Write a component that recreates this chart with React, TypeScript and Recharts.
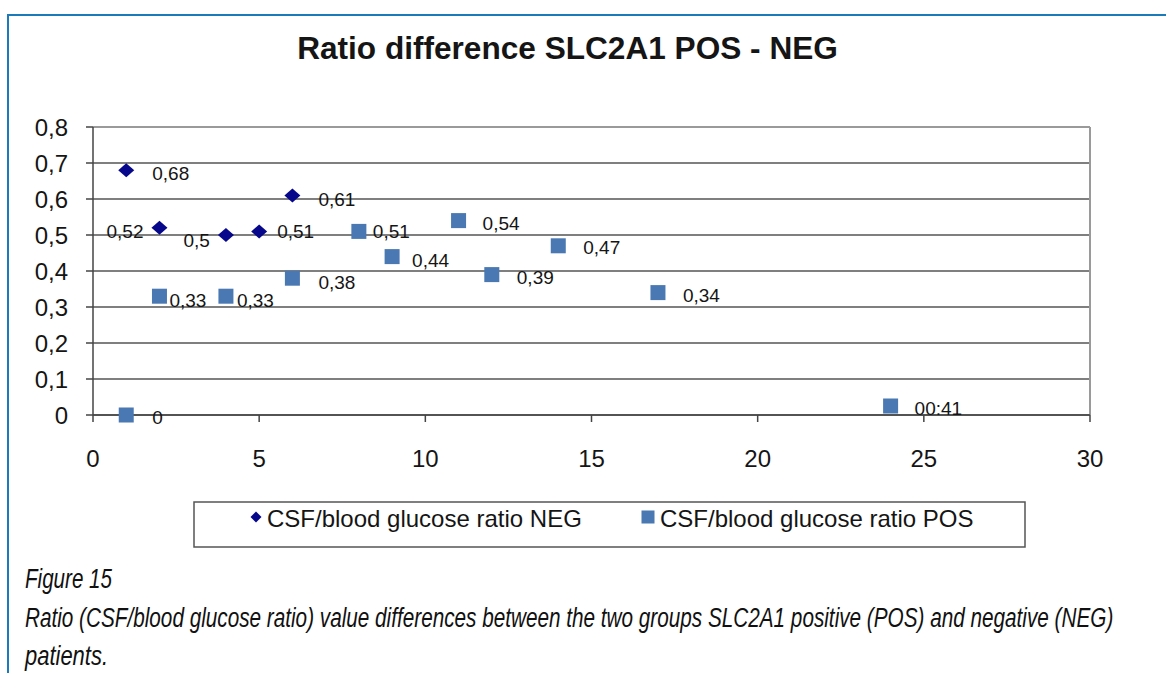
import React, { useLayoutEffect, useRef, useState } from 'react';
import {
  ScatterChart,
  Scatter,
  XAxis,
  YAxis,
  CartesianGrid,
  ReferenceLine,
} from 'recharts';

// ========================================
// DATA
// ========================================

const negX = [1, 2, 4, 5, 6];
const negY = [0.68, 0.52, 0.5, 0.51, 0.61];

const posX = [1, 2, 4, 6, 8, 9, 11, 12, 14, 17, 24];
const posY = [0, 0.33, 0.33, 0.38, 0.51, 0.44, 0.54, 0.39, 0.47, 0.34, 0.025];
// the last label is printed as a time in the source figure
const posLabels = ['0', '0,33', '0,33', '0,38', '0,51', '0,44', '0,54', '0,39', '0,47', '0,34', '00:41'];

const xTicks = [0, 5, 10, 15, 20, 25, 30];
const yTicks = [0, 0.1, 0.2, 0.3, 0.4, 0.5, 0.6, 0.7, 0.8];

const TITLE = 'Ratio difference SLC2A1 POS - NEG';
const NEG_NAME = 'CSF/blood glucose ratio NEG';
const POS_NAME = 'CSF/blood glucose ratio POS';
const CAPTION = [
  'Figure 15',
  'Ratio (CSF/blood glucose ratio) value differences between the two groups SLC2A1 positive (POS) and negative (NEG)',
  'patients.',
];

// ========================================
// STYLE
// ========================================

const FONT = "'Liberation Sans', Arial, Helvetica, sans-serif";
const CAPTION_FONT = "'Liberation Sans Narrow', 'Liberation Sans', Arial, sans-serif";
const NEG_COLOR = '#07078c';
const POS_COLOR = '#4a78b2';
const TEXT = '#151515';

// caption lines: baseline and rendered width (condensed italic)
const CAPTION_Y = [588, 627, 665];
const CAPTION_W = [87, 1088, 83];

const fmt = (v: number) => String(v).replace('.', ',');

const negData = negX.map((x, i) => ({ x, y: negY[i], label: fmt(negY[i]), i }));
const posData = posX.map((x, i) => ({ x, y: posY[i], label: posLabels[i], i }));

// label placement beside each marker: [dx, dy, anchor]
const NEG_LABEL_POS: Array<[number, number, 'start' | 'end']> = [
  [26, 3, 'start'],
  [-16, 4, 'end'],
  [-16, 5, 'end'],
  [18, 0, 'start'],
  [26, 4, 'start'],
];
const POS_LABEL_POS: Array<[number, number]> = [
  [26, 2], [10, 4], [11, 4], [26, 4], [14, 0], [20, 4],
  [24, 3], [25, 3], [25, 2], [25, 3], [24, 2],
];

const diamondPath = (cx: number, cy: number, w: number, h: number) =>
  `M${cx},${cy - h} L${cx + w},${cy} L${cx},${cy + h} L${cx - w},${cy} Z`;

function NegPoint(props: any) {
  const { cx, cy, payload } = props;
  const [dx, dy, anchor] = NEG_LABEL_POS[payload.i];
  return (
    <g>
      <path d={diamondPath(cx, cy, 8, 7)} fill={NEG_COLOR} />
      <text
        x={cx + dx}
        y={cy + dy}
        textAnchor={anchor}
        dominantBaseline="central"
        fontSize={19}
        fontFamily={FONT}
        fill={TEXT}
      >
        {payload.label}
      </text>
    </g>
  );
}

function PosPoint(props: any) {
  const { cx, cy, payload } = props;
  const [dx, dy] = POS_LABEL_POS[payload.i];
  return (
    <g>
      <rect x={cx - 7.5} y={cy - 7.5} width={15} height={15} fill={POS_COLOR} />
      <text
        x={cx + dx}
        y={cy + dy}
        textAnchor="start"
        dominantBaseline="central"
        fontSize={19}
        fontFamily={FONT}
        fill={TEXT}
      >
        {payload.label}
      </text>
    </g>
  );
}

// italic caption line squeezed horizontally to the target width
function CaptionLine({ text, y, width }: { text: string; y: number; width: number }) {
  const ref = useRef<SVGTextElement>(null);
  const [sx, setSx] = useState(0.75);
  useLayoutEffect(() => {
    if (ref.current) {
      const natural = ref.current.getComputedTextLength();
      if (natural > 0) setSx(width / natural);
    }
  }, [text, width]);
  return (
    <g transform={`translate(25,${y}) scale(${sx},1)`}>
      <text
        ref={ref}
        x={0}
        y={0}
        fontSize={28}
        fontStyle="italic"
        fontFamily={CAPTION_FONT}
        fill="#111"
      >
        {text}
      </text>
    </g>
  );
}

const tickStyle = { fontSize: 24, fill: TEXT, fontFamily: FONT };

export default function App() {
  return (
    <div
      style={{
        position: 'absolute',
        left: 0,
        top: 0,
        width: 1166,
        height: 673,
        overflow: 'hidden',
        background: '#fff',
      }}
    >
      {/* blue figure frame */}
      <div
        style={{
          position: 'absolute',
          left: 7,
          top: 14,
          width: 1200,
          height: 700,
          borderTop: '2px solid #1b7bba',
          borderLeft: '2px solid #1b7bba',
        }}
      />

      <div style={{ position: 'absolute', left: 0, top: 0 }}>
        <ScatterChart
          width={1166}
          height={480}
          margin={{ top: 127, right: 76, bottom: 5, left: 33 }}
        >
          <CartesianGrid vertical={false} stroke="#555" strokeWidth={1.4} />
          <XAxis
            type="number"
            dataKey="x"
            domain={[0, 30]}
            ticks={xTicks}
            interval={0}
            height={60}
            tickSize={7}
            tickMargin={28}
            tick={tickStyle}
            stroke="#444"
            strokeWidth={1.5}
          />
          <YAxis
            type="number"
            dataKey="y"
            domain={[0, 0.8]}
            ticks={yTicks}
            interval={0}
            width={60}
            tickSize={7}
            tickMargin={18}
            tick={tickStyle}
            tickFormatter={fmt}
            stroke="#444"
            strokeWidth={1.5}
          />
          <ReferenceLine y={0.8} stroke="#9a9a9a" strokeWidth={2} />
          <ReferenceLine x={30} stroke="#9a9a9a" strokeWidth={2} />
          <Scatter
            name={NEG_NAME}
            data={negData}
            shape={NegPoint}
            isAnimationActive={false}
          />
          <Scatter
            name={POS_NAME}
            data={posData}
            shape={PosPoint}
            isAnimationActive={false}
          />
        </ScatterChart>
      </div>

      {/* title, legend and caption */}
      <svg
        width={1166}
        height={673}
        style={{ position: 'absolute', left: 0, top: 0, pointerEvents: 'none' }}
      >
        <text
          x={567.5}
          y={59}
          textAnchor="middle"
          fontSize={31.6}
          fontWeight="bold"
          fontFamily={FONT}
          fill={TEXT}
        >
          {TITLE}
        </text>

        <rect x={194} y={502} width={831} height={45} fill="#fff" stroke="#555" strokeWidth={1.5} />
        <path d={diamondPath(256, 517, 5.5, 5.5)} fill={NEG_COLOR} />
        <text x={267} y={527} fontSize={24} fontFamily={FONT} fill={TEXT}>
          {NEG_NAME}
        </text>
        <rect x={641.5} y={510.5} width={13} height={13} fill={POS_COLOR} />
        <text x={660} y={527} fontSize={24} fontFamily={FONT} fill={TEXT}>
          {POS_NAME}
        </text>

        {CAPTION.map((line, i) => (
          <CaptionLine key={i} text={line} y={CAPTION_Y[i]} width={CAPTION_W[i]} />
        ))}
      </svg>
    </div>
  );
}
